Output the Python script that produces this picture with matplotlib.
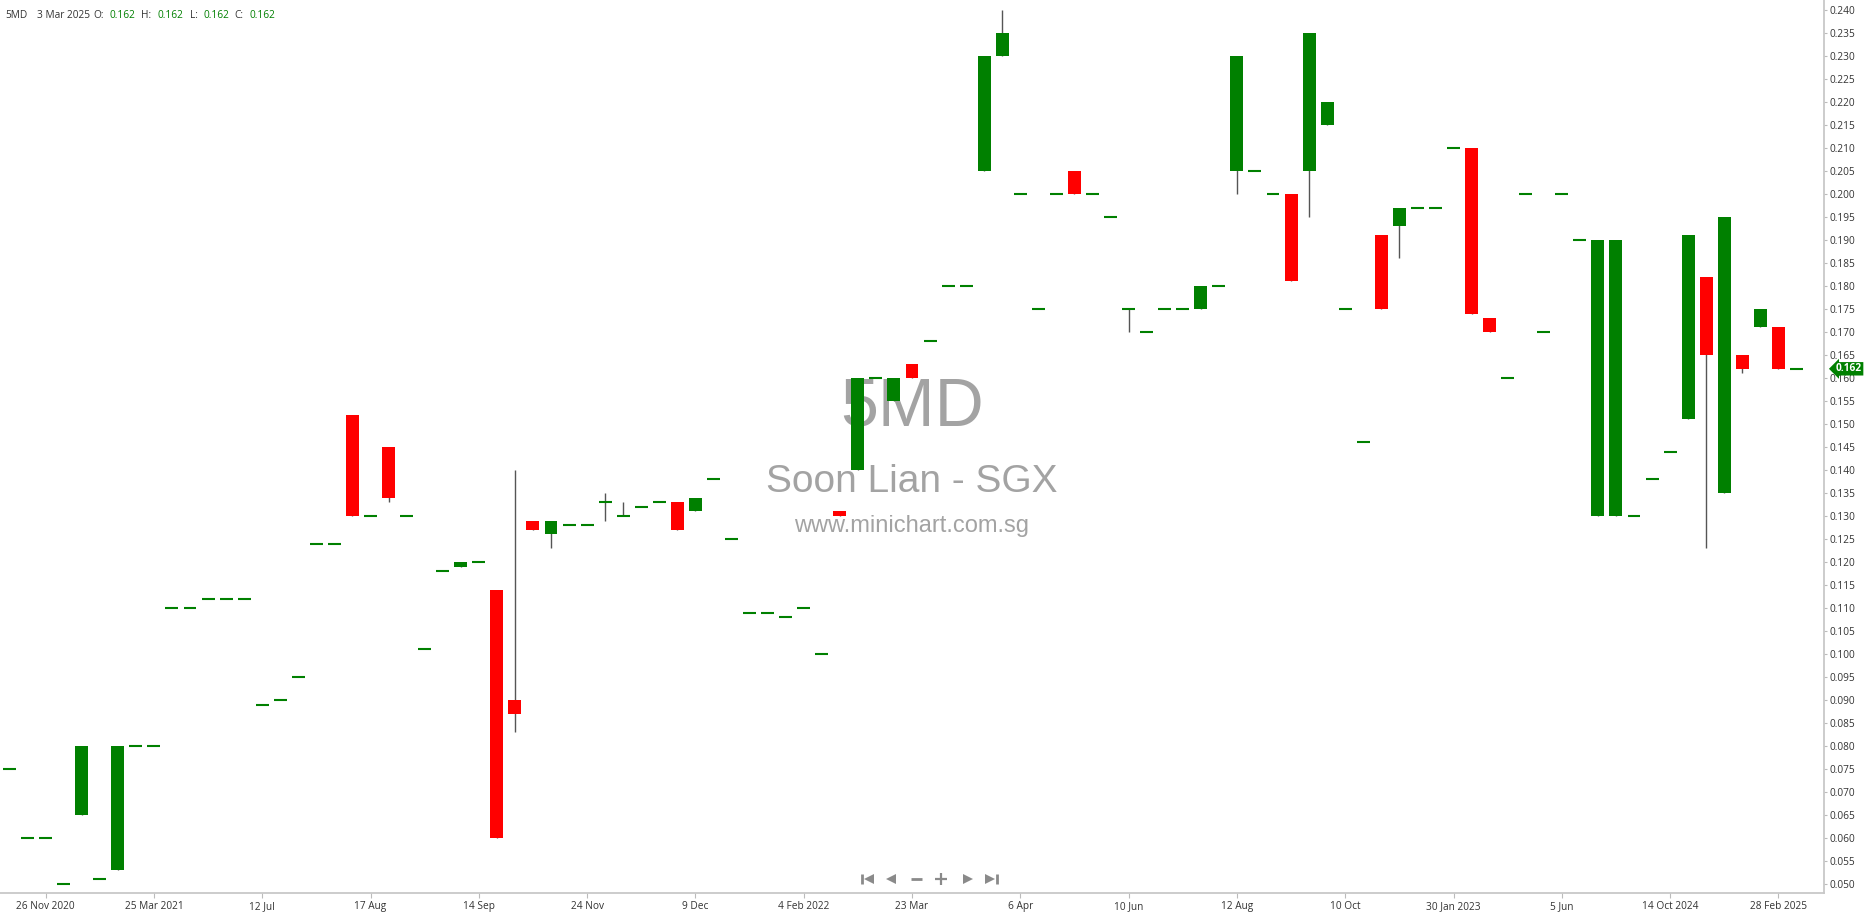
import matplotlib
matplotlib.use("Agg")
import matplotlib.pyplot as plt
from matplotlib.transforms import blended_transform_factory

# candle data, one entry per trading session (oldest first)
opens = [
    .075, .060, .060, .050, .065, .051, .053, .080, .080, .110,
    .110, .112, .112, .112, .089, .090, .095, .124, .124, .152,
    .130, .145, .130, .101, .118, .119, .120, .114, .090, .129,
    .126, .128, .128, .133, .130, .132, .133, .133, .131, .138,
    .125, .109, .109, .108, .110, .100, .131, .140, .160, .155,
    .163, .168, .180, .180, .205, .230, .200, .175, .200, .205,
    .200, .195, .175, .170, .175, .175, .175, .180, .205, .205,
    .200, .200, .205, .215, .175, .146, .191, .193, .197, .197,
    .210, .210, .173, .160, .200, .170, .200, .190, .130, .130,
    .130, .138, .144, .151, .182, .135, .165, .171, .171, .162]
highs = [
    .075, .060, .060, .050, .080, .051, .080, .080, .080, .110,
    .110, .112, .112, .112, .089, .090, .095, .124, .124, .152,
    .130, .145, .130, .101, .118, .120, .120, .114, .140, .129,
    .129, .128, .128, .135, .133, .132, .133, .133, .134, .138,
    .125, .109, .109, .108, .110, .100, .131, .160, .160, .160,
    .163, .168, .180, .180, .230, .240, .200, .175, .200, .205,
    .200, .195, .175, .170, .175, .175, .180, .180, .230, .205,
    .200, .200, .235, .220, .175, .146, .191, .197, .197, .197,
    .210, .210, .173, .160, .200, .170, .200, .190, .190, .190,
    .130, .138, .144, .191, .182, .195, .165, .175, .171, .162]
lows = [
    .075, .060, .060, .050, .065, .051, .053, .080, .080, .110,
    .110, .112, .112, .112, .089, .090, .095, .124, .124, .130,
    .130, .133, .130, .101, .118, .119, .120, .060, .083, .127,
    .123, .128, .128, .129, .130, .132, .133, .127, .131, .138,
    .125, .109, .109, .108, .110, .100, .130, .140, .160, .155,
    .160, .168, .180, .180, .205, .230, .200, .175, .200, .200,
    .200, .195, .170, .170, .175, .175, .175, .180, .200, .205,
    .200, .181, .195, .215, .175, .146, .175, .186, .197, .197,
    .210, .174, .170, .160, .200, .170, .200, .190, .130, .130,
    .130, .138, .144, .151, .123, .135, .161, .171, .162, .162]
closes = [
    .075, .060, .060, .050, .080, .051, .080, .080, .080, .110,
    .110, .112, .112, .112, .089, .090, .095, .124, .124, .130,
    .130, .134, .130, .101, .118, .120, .120, .060, .087, .127,
    .129, .128, .128, .133, .130, .132, .133, .127, .134, .138,
    .125, .109, .109, .108, .110, .100, .130, .160, .160, .160,
    .160, .168, .180, .180, .230, .235, .200, .175, .200, .200,
    .200, .195, .175, .170, .175, .175, .180, .180, .230, .205,
    .200, .181, .235, .220, .175, .146, .175, .197, .197, .197,
    .210, .174, .170, .160, .200, .170, .200, .190, .190, .190,
    .130, .138, .144, .191, .165, .195, .162, .175, .162, .162]

date_ticks = [2, 8, 14, 20, 26, 32, 38, 44, 50, 56, 62, 68, 74, 80, 86, 92, 98]
date_labels = ['26 Nov 2020', '25 Mar 2021', '12 Jul', '17 Aug', '14 Sep', '24 Nov',
               '9 Dec', '4 Feb 2022', '23 Mar', '6 Apr', '10 Jun', '12 Aug', '10 Oct',
               '30 Jan 2023', '5 Jun', '14 Oct 2024', '28 Feb 2025']
price_ticks = [round(0.050 + 0.005 * k, 3) for k in range(39)]

symbol = '5MD'
name = 'Soon Lian - SGX'
site = 'www.minichart.com.sg'
last_date = '3 Mar 2025'

GREEN = '#008000'
RED = '#ff0000'
WICK = '#555555'
AXIS = '#c8c8c8'
TXT = '#333333'
W, H = 1864, 914

plt.rcParams['font.family'] = ['Open Sans', 'DejaVu Sans']

fig = plt.figure(figsize=(W / 100, H / 100), dpi=100)
# plot area: from the left edge to the price axis line, top to the date axis line
ax = fig.add_axes([0, 1 - 893 / H, 1824 / W, 893 / H])

n = len(opens)
xs = list(range(n))
bw = 0.72

# watermark behind the candles
wm = dict(transform=ax.transAxes, ha='center', va='baseline', color='#a3a3a3',
          family='Liberation Sans', zorder=0)
ax.text(0.5, 0.524, symbol, fontsize=49, **wm)
ax.text(0.5, 0.449, name, fontsize=28, **wm)
ax.text(0.5, 0.404, site, fontsize=17, **wm)

# wicks
wx = [i for i in xs if highs[i] > lows[i]]
ax.vlines(wx, [lows[i] for i in wx], [highs[i] for i in wx], color=WICK, lw=1.0, zorder=2)

# bodies
for i in xs:
    o, c = opens[i], closes[i]
    col = GREEN if c >= o else RED
    if o == c:
        ax.hlines(o, i - bw / 2, i + bw / 2, color=GREEN, lw=1.5, zorder=3)
    else:
        ax.bar(i, abs(c - o), bottom=min(o, c), width=bw, color=col, lw=0, zorder=3)

ax.set_xlim(-9.5 / 18.05, (1824 - 9.5) / 18.05)
ax.set_ylim(0.240 - 883 / 4600, 0.240 + 10 / 4600)

for s in ['top', 'left']:
    ax.spines[s].set_visible(False)
for s in ['bottom', 'right']:
    ax.spines[s].set_color(AXIS)
    ax.spines[s].set_linewidth(1.3)

ax.yaxis.tick_right()
ax.set_yticks(price_ticks)
ax.set_yticklabels([f'{v:.3f}' for v in price_ticks])
ax.tick_params(axis='y', length=2.5, width=0.8, color='#bbbbbb', labelsize=7.3,
               labelcolor=TXT, pad=1.5)
ax.set_xticks(date_ticks)
ax.set_xticklabels(date_labels)
ax.tick_params(axis='x', length=3.5, width=0.8, color='#bbbbbb', labelsize=7.3,
               labelcolor=TXT, pad=2)

# last price tag on the price axis
tr = blended_transform_factory(ax.transAxes, ax.transData)
ax.text(1 + 12 / 1824, closes[-1], f'{closes[-1]:.3f}', transform=tr, ha='left', va='center',
        fontsize=7.3, fontweight='bold', color='white', clip_on=False, zorder=5,
        bbox=dict(boxstyle='larrow,pad=0.12', fc=GREEN, ec='none'))

# navigation buttons
nav = dict(transform=ax.transAxes, color='#8a8a8a', clip_on=False, zorder=4)
ny = 1 - 879 / 893
px = lambda p: p / 1824
ax.plot([px(862), px(862)], [ny - 5 / 893, ny + 5 / 893], lw=2, solid_capstyle='butt', **nav)
ax.plot([px(869)], [ny], marker='<', ms=7, mew=0, linestyle='none', **nav)
ax.plot([px(891)], [ny], marker='<', ms=7, mew=0, linestyle='none', **nav)
ax.plot([px(911), px(922)], [ny, ny], lw=2, solid_capstyle='butt', **nav)
ax.plot([px(941)], [ny], marker='+', ms=8, mew=1.6, linestyle='none', **nav)
ax.plot([px(968)], [ny], marker='>', ms=7, mew=0, linestyle='none', **nav)
ax.plot([px(990)], [ny], marker='>', ms=7, mew=0, linestyle='none', **nav)
ax.plot([px(997), px(997)], [ny - 5 / 893, ny + 5 / 893], lw=2, solid_capstyle='butt', **nav)

# header line
hy = 1 - 15 / H
fig.text(5 / W, hy, symbol, fontsize=7.3, color=TXT, va='center')
fig.text(37 / W, hy, last_date, fontsize=7.3, color=TXT, va='center')
vals = [('O:', opens[-1], 93, 110), ('H:', highs[-1], 141, 158),
        ('L:', lows[-1], 190, 203), ('C:', closes[-1], 234, 249)]
for lab, v, lx, vx in vals:
    fig.text(lx / W, hy, lab, fontsize=7.3, color=TXT, va='center')
    fig.text(vx / W, hy, f'{v:.3f}', fontsize=7.3, color=GREEN, va='center')

fig.savefig('out.png', dpi=100, facecolor='white')
